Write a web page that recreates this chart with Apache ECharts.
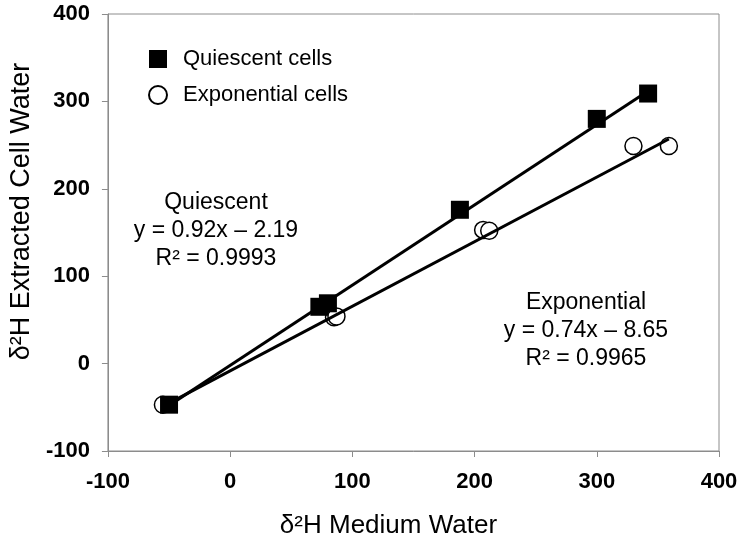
<!DOCTYPE html>
<html>
<head>
<meta charset="utf-8">
<script src="https://cdn.jsdelivr.net/npm/echarts@6/dist/echarts.min.js"></script>
<style>
html,body{margin:0;padding:0;background:#fff;}
#chart{width:743px;height:545px;}
</style>
</head>
<body>
<div id="chart"></div>
<script>
// Data
const quiescentX = [-50, 73, 80, 188, 300, 342];
const quiescentY = [-47, 65, 69, 176, 280, 309];
const exponentialX = [-55, 85, 87, 207, 212, 330, 359];
const exponentialY = [-47, 53, 54, 153, 152, 249, 249];
// Trend-line endpoints as drawn in the picture
const quiescentFitX = [-50, 342];
const quiescentFitY = [-48, 312];
const exponentialFitX = [-55, 359];
const exponentialFitY = [-49, 257];
const xTicks = [-100, 0, 100, 200, 300, 400];
const yTicks = [-100, 0, 100, 200, 300, 400];
const seriesNames = ['Quiescent cells', 'Exponential cells'];
const quiescentNote = ['Quiescent', 'y = 0.92x – 2.19', 'R² = 0.9993'];
const exponentialNote = ['Exponential', 'y = 0.74x – 8.65', 'R² = 0.9965'];

const pairs = (xs, ys) => xs.map((x, i) => [x, ys[i]]);
const FONT = '"Liberation Sans", Arial, sans-serif';

const chart = echarts.init(document.getElementById('chart'), null, {renderer: 'canvas'});
const axisCommon = {
  type: 'value',
  interval: 100,
  axisLine: {show: true, onZero: false, lineStyle: {color: '#8c8c8c', width: 1}},
  axisTick: {show: true, inside: false, length: 6, lineStyle: {color: '#8c8c8c'}},
  splitLine: {show: false},
  nameLocation: 'middle',
  nameTextStyle: {fontFamily: FONT, fontSize: 27, color: '#000'},
  axisLabel: {fontFamily: FONT, fontSize: 22, fontWeight: 'bold', color: '#000'}
};

chart.setOption({
  animation: false,
  backgroundColor: '#fff',
  grid: {left: 107, right: 24, top: 14, bottom: 94, show: true, borderColor: '#8c8c8c', borderWidth: 1, containLabel: false},
  xAxis: Object.assign({}, axisCommon, {
    min: xTicks[0], max: xTicks[xTicks.length - 1],
    name: 'δ²H Medium Water', nameGap: 62,
    nameTextStyle: Object.assign({}, axisCommon.nameTextStyle, {fontSize: 26, padding: [0, 50, 0, 0]}),
    axisLabel: Object.assign({}, axisCommon.axisLabel, {margin: 20})
  }),
  yAxis: Object.assign({}, axisCommon, {
    min: yTicks[0], max: yTicks[yTicks.length - 1],
    name: 'δ²H Extracted Cell Water', nameGap: 64,
    nameTextStyle: Object.assign({}, axisCommon.nameTextStyle, {padding: [0, 0, 0, 42]}),
    axisLabel: Object.assign({}, axisCommon.axisLabel, {margin: 18})
  }),
  legend: {
    data: seriesNames,
    orient: 'vertical',
    left: 143, top: 43,
    itemWidth: 18, itemHeight: 18, itemGap: 14,
    textStyle: {fontFamily: FONT, fontSize: 22, color: '#000', padding: [0, 0, 0, 11]}
  },
  series: [
    {
      name: seriesNames[0], type: 'scatter', symbol: 'rect', symbolSize: 18,
      itemStyle: {color: '#000', opacity: 1},
      data: pairs(quiescentX, quiescentY), z: 4
    },
    {
      name: seriesNames[1], type: 'scatter', symbol: 'circle', symbolSize: 17,
      itemStyle: {color: '#fff', borderColor: '#000', borderWidth: 1.5, opacity: 1},
      data: pairs(exponentialX, exponentialY), z: 3
    },
    {
      name: 'Quiescent fit', type: 'line', symbol: 'none', silent: true,
      lineStyle: {color: '#000', width: 3}, data: pairs(quiescentFitX, quiescentFitY), z: 5
    },
    {
      name: 'Exponential fit', type: 'line', symbol: 'none', silent: true,
      lineStyle: {color: '#000', width: 3}, data: pairs(exponentialFitX, exponentialFitY), z: 5
    }
  ],
  graphic: [
    {
      type: 'text', x: 216, y: 189, z: 10,
      style: {text: quiescentNote.join('\n'), font: '23px ' + FONT, fill: '#000', align: 'center', lineHeight: 28}
    },
    {
      type: 'text', x: 586, y: 289, z: 10,
      style: {text: exponentialNote.join('\n'), font: '23px ' + FONT, fill: '#000', align: 'center', lineHeight: 28}
    }
  ]
});
</script>
</body>
</html>
